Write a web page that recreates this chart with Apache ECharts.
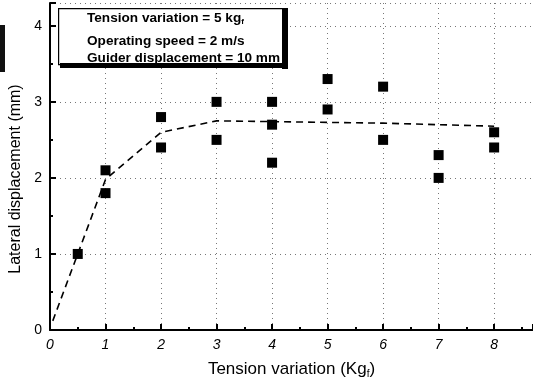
<!DOCTYPE html>
<html><head><meta charset="utf-8">
<script src="https://cdn.jsdelivr.net/npm/echarts@6/dist/echarts.min.js"></script>
<style>html,body{margin:0;padding:0;background:#fff}#c{width:533px;height:383px}</style>
</head><body><div id="c"></div>
<script>
var measured = [
  [0.5, 1.0],
  [1, 2.1], [1, 1.8],
  [2, 2.8], [2, 2.4],
  [3, 3.0], [3, 2.5],
  [4, 3.0], [4, 2.7], [4, 2.2],
  [5, 3.3], [5, 2.9],
  [6, 3.2], [6, 2.5],
  [7, 2.3], [7, 2.0],
  [8, 2.6], [8, 2.4]
];
var fitLine = [
  [0.05, 0.12], [1, 1.98], [2, 2.6], [3, 2.75], [4, 2.74],
  [5, 2.73], [6, 2.72], [7, 2.7], [8, 2.68]
];
var legendLines = ['Tension variation = 5 kg', 'Operating speed = 2 m/s', 'Guider displacement = 10 mm'];

var chart = echarts.init(document.getElementById('c'));
var font = "'Liberation Sans', Arial, sans-serif";
function intFmt(v) { return Math.abs(v - Math.round(v)) < 1e-6 ? String(Math.round(v)) : ''; }
chart.setOption({
  animation: false,
  grid: {left: 50, right: 0, top: 3, bottom: 53, containLabel: false, outerBoundsMode: 'none'},
  xAxis: {
    type: 'value', min: 0, max: 8.7, interval: 1,
    name: 'Tension variation (Kg{s|f})', nameLocation: 'middle', nameGap: 29,
    nameTextStyle: {color: '#000', fontSize: 17, fontFamily: font,
      rich: {s: {fontSize: 10, verticalAlign: 'bottom', padding: [10, 0, 0, 0], color: '#000', fontFamily: font}}},
    axisLine: {show: true, lineStyle: {color: '#000', width: 2}},
    axisTick: {show: true, inside: true, length: 6, lineStyle: {color: '#000', width: 2}},
    minorTick: {show: true, splitNumber: 2, length: 3, lineStyle: {color: '#000', width: 2}},
    axisLabel: {color: '#000', fontSize: 14, fontStyle: 'italic', fontFamily: font, margin: 8, showMaxLabel: false, formatter: intFmt},
    splitLine: {show: true, lineStyle: {color: '#777', type: [1, 4], width: 1}}
  },
  yAxis: {
    type: 'value', min: 0, max: 4.3, interval: 1,
    name: 'Lateral displacement (mm)', nameLocation: 'middle', nameGap: 19,
    nameTextStyle: {color: '#000', fontSize: 16, fontFamily: font, padding: [0, 25, 0, 0]},
    axisLine: {show: true, lineStyle: {color: '#000', width: 2}},
    axisTick: {show: true, inside: true, length: 6, lineStyle: {color: '#000', width: 2}},
    minorTick: {show: true, splitNumber: 2, length: 3, lineStyle: {color: '#000', width: 2}},
    axisLabel: {color: '#000', fontSize: 14, fontFamily: font, margin: 8, showMaxLabel: false, formatter: intFmt},
    splitLine: {show: true, lineStyle: {color: '#777', type: [1, 4], width: 1}}
  },
  series: [
    {type: 'line', data: fitLine, symbol: 'none', z: 2,
     lineStyle: {color: '#000', width: 1.6, type: [7, 5]}},
    {type: 'scatter', data: measured, symbol: 'rect', symbolSize: 10, z: 3,
     itemStyle: {color: '#000', opacity: 1}}
  ],
  graphic: [
    {type: 'rect', left: 0, top: 25, shape: {width: 5, height: 47}, style: {fill: '#111'}},
    {type: 'rect', left: 58, top: 8, z: 11, shape: {width: 226, height: 56}, style: {fill: '#fff', stroke: '#000', lineWidth: 1.2}},
    {type: 'text', left: 87, top: 11, z: 12, style: {text: legendLines[0] + '{s|f}', fill: '#000', fontSize: 13.6, fontWeight: 'bold', fontFamily: font,
      rich: {s: {fontSize: 8, fontWeight: 'bold', fontFamily: font, fill: '#000', padding: [7, 0, 0, 0]}}}},
    {type: 'text', left: 87, top: 34, z: 12, style: {text: legendLines[1], fill: '#000', fontSize: 13.6, fontWeight: 'bold', fontFamily: font}},
    {type: 'text', left: 87, top: 51, z: 12, style: {text: legendLines[2], fill: '#000', fontSize: 13.6, fontWeight: 'bold', fontFamily: font}},
    {type: 'rect', left: 287, top: 40, z: 13, shape: {width: 40, height: 24}, style: {fill: '#fff'}},
    {type: 'rect', left: 282, top: 8, z: 14, shape: {width: 6, height: 61}, style: {fill: '#000'}},
    {type: 'rect', left: 60, top: 63, z: 14, shape: {width: 228, height: 5}, style: {fill: '#000'}}
  ]
});
</script></body></html>
